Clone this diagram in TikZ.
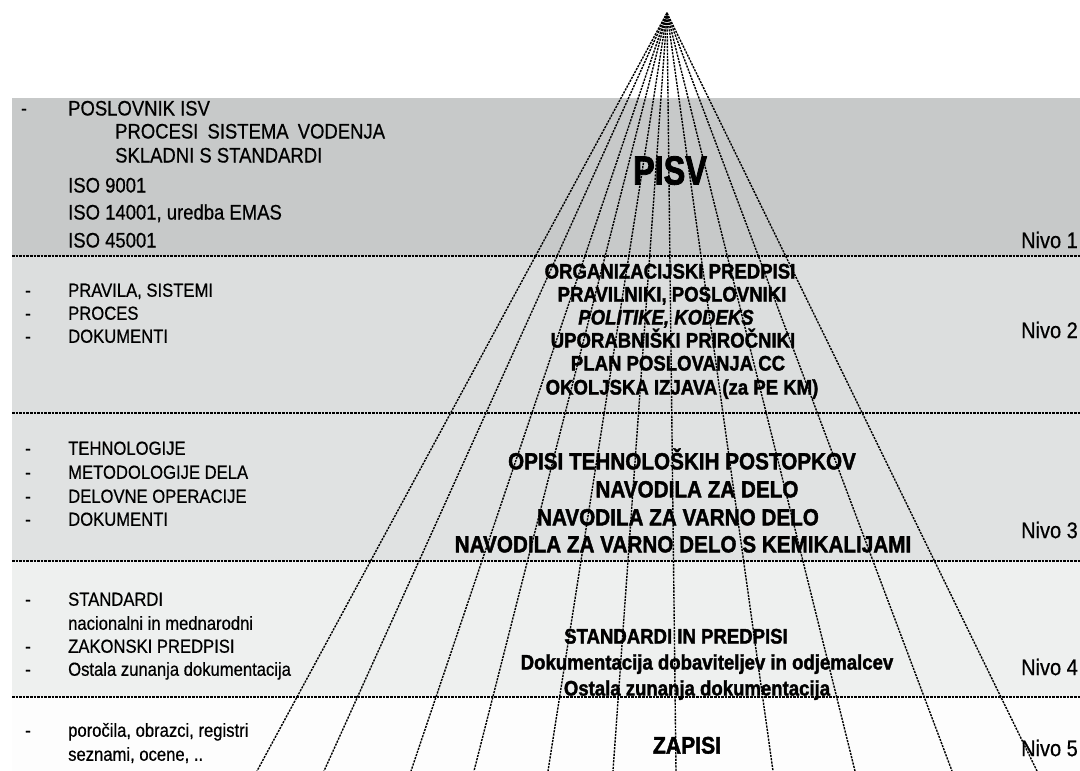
\documentclass[tikz,border=0pt]{standalone}
\usepackage{fontspec}
\setmainfont{Liberation Sans}[UprightFont={Liberation Sans}, BoldFont={Liberation Sans Bold}, ItalicFont={Liberation Sans Italic}, BoldItalicFont={Liberation Sans Bold Italic}, FakeStretch=0.88, UprightFeatures={FakeBold=0.6}, BoldFeatures={FakeBold=1.6}, BoldItalicFeatures={FakeBold=1.6}]
\newfontfamily\pisvfont{Liberation Sans Bold}[FakeStretch=0.8, FakeBold=2]
\definecolor{bandA}{HTML}{C7C9C9}
\definecolor{bandB}{HTML}{DCDEDE}
\definecolor{bandC}{HTML}{E0E2E2}
\definecolor{bandD}{HTML}{EEF0EF}
\definecolor{bandE}{HTML}{FDFDFD}
\begin{document}
\begin{tikzpicture}[x=1pt,y=-1pt,
  ray/.style={line width=1.4pt, dash pattern=on 2.2pt off 1.1pt},
  divider/.style={line width=1.3pt, dash pattern=on 2.6pt off 1pt},
  tl/.style={anchor=west, inner sep=0pt, text depth=0pt},
  lbig/.style={tl, font=\fontsize{21}{24}\selectfont, text height=15pt},
  lsm/.style={tl, font=\fontsize{18.9}{22}\selectfont, text height=13.5pt},
  cmid/.style={inner sep=0pt, text depth=0pt, font=\fontsize{21.1}{24}\selectfont\bfseries, text height=15.1pt},
  cbig/.style={inner sep=0pt, text depth=0pt, font=\fontsize{23.5}{26}\selectfont\bfseries, text height=16.8pt},
  nivo/.style={anchor=east, inner sep=0pt, text depth=0pt, font=\fontsize{22.7}{25}\selectfont, text height=16.3pt},
]
\useasboundingbox (0,0) rectangle (1080,771);
\fill[white] (0,0) rectangle (1080,771);
% bands
\fill[bandA] (12,98) rectangle (1080,256);
\fill[bandB] (12,256) rectangle (1080,413);
\fill[bandC] (12,413) rectangle (1080,561);
\fill[bandD] (12,561) rectangle (1080,697);
\fill[bandE] (12,697) rectangle (1080,771);
% dividers
\coordinate (dA1) at (12,256); \coordinate (dA2) at (1080,256);
\coordinate (dB1) at (12,413); \coordinate (dB2) at (1080,413);
\coordinate (dC1) at (12,561); \coordinate (dC2) at (1080,561);
\coordinate (dD1) at (12,697); \coordinate (dD2) at (1080,697);
\draw[divider] (dA1) -- (dA2);
\draw[divider] (dB1) -- (dB2);
\draw[divider] (dC1) -- (dC2);
\draw[divider] (dD1) -- (dD2);

% left texts, level 1
\node[lsm] (dash1) at (21,108) {-};
\node[lbig] (l1a) at (68,108) {POSLOVNIK ISV};
\node[lbig] (l1b) at (115,131) {PROCESI\hspace{4pt} SISTEMA\hspace{4pt} VODENJA};
\node[lbig] (l1c) at (115,155) {SKLADNI S STANDARDI};
\node[lbig] (l1d) at (68,185) {ISO 9001};
\node[lbig] (l1e) at (68,212) {ISO 14001, uredba EMAS};
\node[lbig] (l1f) at (68,240) {ISO 45001};
% level 2
\node[lsm] (dash2a) at (25,290) {-};
\node[lsm] (dash2b) at (25,313) {-};
\node[lsm] (dash2c) at (25,336) {-};
\node[lsm] (l2a) at (68,290) {PRAVILA, SISTEMI};
\node[lsm] (l2b) at (68,313) {PROCES};
\node[lsm] (l2c) at (68,336) {DOKUMENTI};
% level 3
\node[lsm] (dash3a) at (25,448) {-};
\node[lsm] (dash3b) at (25,472) {-};
\node[lsm] (dash3c) at (25,496) {-};
\node[lsm] (dash3d) at (25,519) {-};
\node[lsm] (l3a) at (68,448) {TEHNOLOGIJE};
\node[lsm] (l3b) at (68,472) {METODOLOGIJE DELA};
\node[lsm] (l3c) at (68,496) {DELOVNE OPERACIJE};
\node[lsm] (l3d) at (68,519) {DOKUMENTI};
% level 4
\node[lsm] (dash4a) at (25,599) {-};
\node[lsm] (dash4c) at (25,646) {-};
\node[lsm] (dash4d) at (25,669) {-};
\node[lsm] (l4a) at (68,599) {STANDARDI};
\node[lsm] (l4b) at (68,623) {nacionalni in mednarodni};
\node[lsm] (l4c) at (68,646) {ZAKONSKI PREDPISI};
\node[lsm] (l4d) at (68,669) {Ostala zunanja dokumentacija};
% level 5
\node[lsm] (dash5a) at (25,730) {-};
\node[lsm] (l5a) at (68,730) {poročila, obrazci, registri};
\node[lsm] (l5b) at (68,754) {seznami, ocene, ..};

% centre texts
\node[inner sep=0pt, text depth=0pt, text height=29pt, font=\pisvfont\fontsize{40.5}{44}\selectfont] (pisv) at (670,170) {PISV};
\node[cmid] (c2a) at (670,271) {ORGANIZACIJSKI PREDPISI};
\node[cmid] (c2b) at (672,294) {PRAVILNIKI, POSLOVNIKI};
\node[cmid] (c2c) at (666,317) {\itshape POLITIKE, KODEKS};
\node[cmid] (c2d) at (673,340) {UPORABNIŠKI PRIROČNIKI};
\node[cmid] (c2e) at (678,363) {PLAN POSLOVANJA CC};
\node[cmid] (c2f) at (682,387) {OKOLJSKA IZJAVA (za PE KM)};
\node[cbig] (c3a) at (682,461) {OPISI TEHNOLOŠKIH POSTOPKOV};
\node[cbig] (c3b) at (697,489) {NAVODILA ZA DELO};
\node[cbig] (c3c) at (678,517) {NAVODILA ZA VARNO DELO};
\node[cbig] (c3d) at (683,544) {NAVODILA ZA VARNO DELO S KEMIKALIJAMI};
\node[cmid] (c4a) at (676,636) {STANDARDI IN PREDPISI};
\node[cmid] (c4b) at (707,662) {Dokumentacija dobaviteljev in odjemalcev};
\node[cmid] (c4c) at (697,688) {Ostala zunanja dokumentacija};
\node[inner sep=0pt, text depth=0pt, text height=17.2pt, font=\fontsize{24}{26}\selectfont\bfseries] (c5a) at (687,745) {ZAPISI};

% level labels
\node[nivo] (n1) at (1078,240) {Nivo 1};
\node[nivo] (n2) at (1078,330) {Nivo 2};
\node[nivo] (n3) at (1078,530) {Nivo 3};
\node[nivo] (n4) at (1078,667) {Nivo 4};
\node[nivo] (n5) at (1078,748) {Nivo 5};

% rays
\coordinate (apex) at (667,13);
\foreach \bx [count=\i] in {257,324,411,474,548,613,676,773,855,952,1037} {
  \coordinate (foot\i) at (\bx,771);
  \draw[ray] (apex) -- (foot\i);
}
\end{tikzpicture}
\end{document}
